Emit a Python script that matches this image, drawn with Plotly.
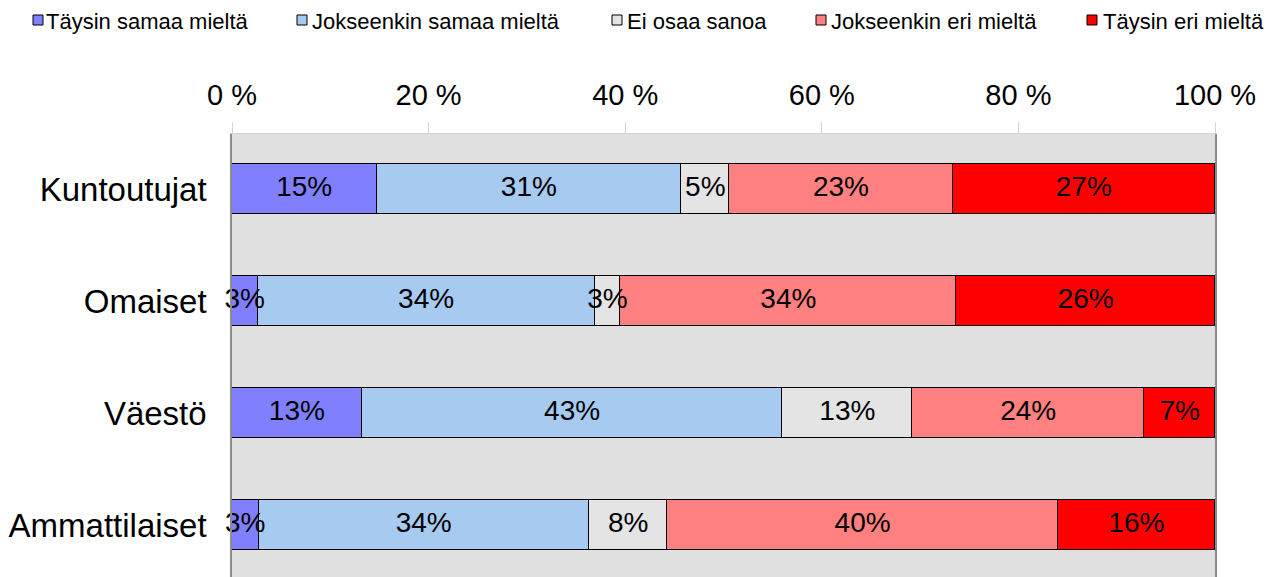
import plotly.graph_objects as go

categories = ["Kuntoutujat", "Omaiset", "Väestö", "Ammattilaiset"]
series_names = ["Täysin samaa mieltä", "Jokseenkin samaa mieltä", "Ei osaa sanoa",
                "Jokseenkin eri mieltä", "Täysin eri mieltä"]
taysin_samaa = [14.7, 2.6, 13.2, 2.7]
jokseenkin_samaa = [31.0, 34.3, 42.8, 33.6]
ei_osaa = [4.9, 2.6, 13.2, 8.0]
jokseenkin_eri = [22.7, 34.2, 23.6, 39.7]
taysin_eri = [26.7, 26.3, 7.2, 16.0]
tick_vals = [0, 20, 40, 60, 80, 100]
tick_labels = ["0 %", "20 %", "40 %", "60 %", "80 %", "100 %"]

series_values = [taysin_samaa, jokseenkin_samaa, ei_osaa, jokseenkin_eri, taysin_eri]
colors = ["#8080FF", "#A6CAF0", "#E4E4E4", "#FF8080", "#FF0000"]

FONT = "Liberation Sans, Arial, sans-serif"

# page places the figure 8px in from the top-left corner (default body margin)
OFF = 8
W, H = 1272 - OFF, 577 - OFF
PLOT_L, PLOT_R, PLOT_T, PLOT_B = 232, 1215, 134, 577   # screen px
PW, PH = PLOT_R - PLOT_L, PLOT_B - PLOT_T


def px_x(px):
    return (px - PLOT_L) / PW


def px_y(py):
    return (PLOT_B - py) / PH


fig = go.Figure()
for name, vals, col in zip(series_names, series_values, colors):
    fig.add_trace(go.Bar(
        name=name,
        y=categories,
        x=vals,
        orientation="h",
        width=0.44,
        marker=dict(color=col, line=dict(color="#000000", width=1.5)),
        hoverinfo="skip",
        showlegend=False,
    ))

# data labels, centred in each stacked segment
base = [0.0] * len(categories)
for name, vals in zip(series_names, series_values):
    mids = [b + v / 2 for b, v in zip(base, vals)]
    fig.add_trace(go.Scatter(
        x=mids,
        y=categories,
        mode="text",
        text=[f"{v:.0f}%" for v in vals],
        textposition="middle center",
        textfont=dict(family=FONT, size=28, color="#000000"),
        cliponaxis=False,
        hoverinfo="skip",
        showlegend=False,
    ))
    base = [b + v for b, v in zip(base, vals)]

# legend drawn as key squares + text, laid out like the reference
legend_marker_left = [33, 297, 612, 816, 1087]
legend_text_left = [47, 313, 628, 832, 1104]
shapes, annotations = [], []
for name, col, mx, tx in zip(series_names, colors, legend_marker_left, legend_text_left):
    shapes.append(dict(
        type="rect", xref="paper", yref="paper",
        x0=px_x(mx), x1=px_x(mx + 10), y0=px_y(25), y1=px_y(15),
        fillcolor=col, line=dict(color="#000000", width=1), layer="above",
    ))
    annotations.append(dict(
        xref="paper", yref="paper", x=px_x(tx - 3), y=px_y(21),
        xanchor="left", yanchor="middle", showarrow=False,
        text=name, font=dict(family=FONT, size=22, color="#000000"),
    ))

fig.update_layout(
    width=W,
    height=H,
    barmode="stack",
    bargap=0,
    showlegend=False,
    paper_bgcolor="#FFFFFF",
    plot_bgcolor="#E0E0E0",
    margin=dict(l=PLOT_L - OFF, r=(W + OFF) - PLOT_R, t=PLOT_T - OFF, b=0, pad=0),
    font=dict(family=FONT, color="#000000"),
    shapes=shapes,
    annotations=annotations,
    xaxis=dict(
        side="top",
        range=[0, 100],
        tickvals=tick_vals,
        ticktext=tick_labels,
        tickfont=dict(family=FONT, size=29, color="#000000"),
        showgrid=False,
        zeroline=False,
        showline=True,
        linecolor="#D4D4D4",
        linewidth=1,
        ticks="outside",
        ticklen=11,
        tickcolor="#D4D4D4",
        tickwidth=1,
        ticklabelstandoff=5,
        automargin=False,
        fixedrange=True,
    ),
    yaxis=dict(
        type="category",
        categoryorder="array",
        categoryarray=categories,
        range=[3.464, -0.491],
        tickfont=dict(family=FONT, size=33, color="#000000"),
        showgrid=False,
        zeroline=False,
        showline=True,
        mirror=True,
        linecolor="#8C8C8C",
        linewidth=1.5,
        ticks="",
        ticklabelstandoff=17,
        automargin=False,
        fixedrange=True,
    ),
)

fig.write_html("out.html")
